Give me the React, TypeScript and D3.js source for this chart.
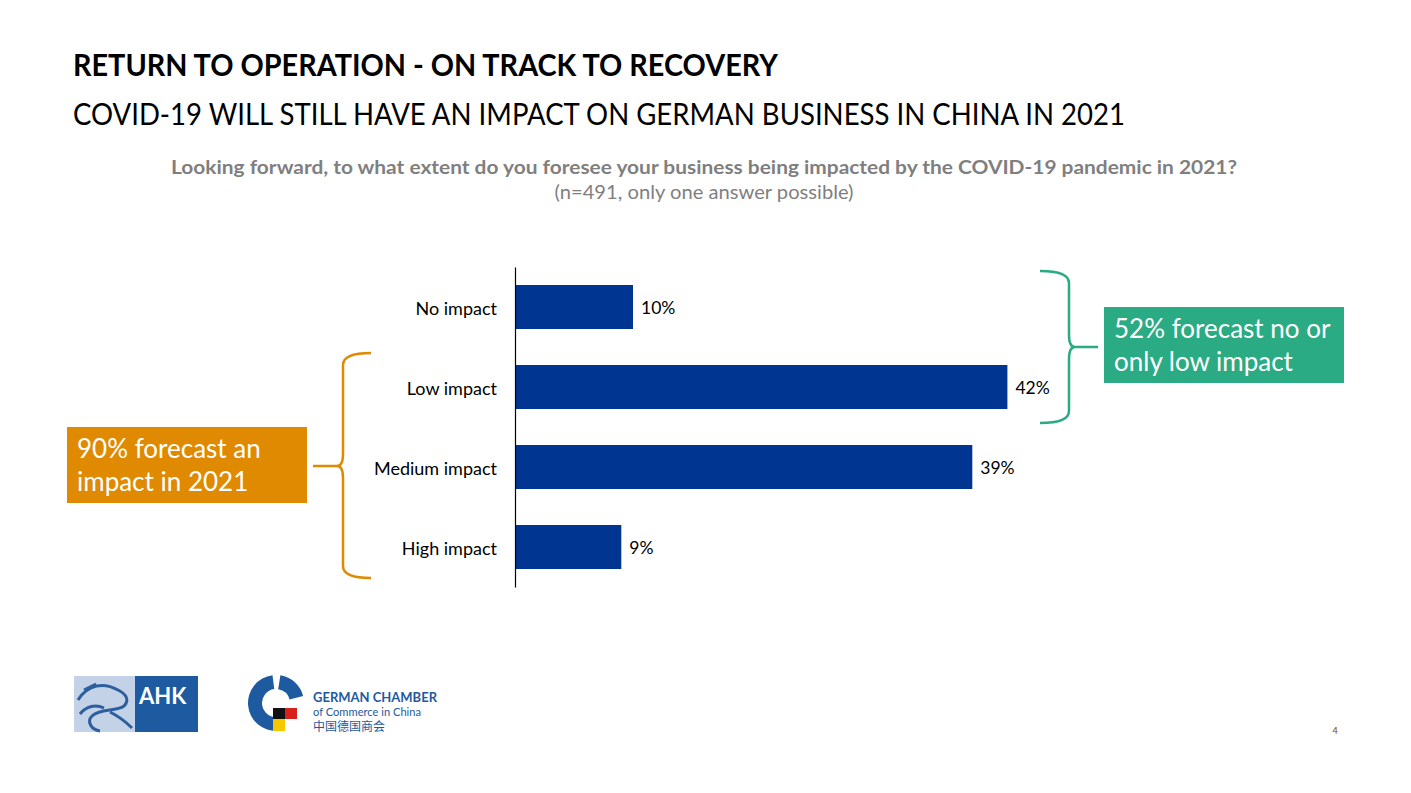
import React, { useEffect, useRef } from 'react';
import * as d3 from 'd3';

const categories = ['No impact', 'Low impact', 'Medium impact', 'High impact'];
const shares = [10, 42, 39, 9];

const title = 'RETURN TO OPERATION - ON TRACK TO RECOVERY';
const subtitle = 'COVID-19 WILL STILL HAVE AN IMPACT ON GERMAN BUSINESS IN CHINA IN 2021';
const question = 'Looking forward, to what extent do you foresee your business being impacted by the COVID-19 pandemic in 2021?';
const note = '(n=491, only one answer possible)';
const greenNote = ['52% forecast no or', 'only low impact'];
const orangeNote = ['90% forecast an', 'impact in 2021'];

const W = 1411;
const H = 793;
const FONT = 'Lato, "Open Sans", "Noto Sans", sans-serif';
const BAR = '#003591';
const GREEN = '#2bab83';
const ORANGE = '#df8a00';

const App: React.FC = () => {
  const svgRef = useRef<SVGSVGElement>(null);

  useEffect(() => {
    if (!svgRef.current) return;
    const svg = d3.select(svgRef.current);
    svg.selectAll('*').remove();

    svg.append('rect').attr('width', W).attr('height', H).attr('fill', '#fff');

    // Headings
    svg.append('text')
      .attr('x', 73).attr('y', 76)
      .attr('font-family', FONT).attr('font-weight', 700).attr('font-size', 30)
      .attr('textLength', 705).attr('lengthAdjust', 'spacingAndGlyphs')
      .attr('fill', '#000').text(title);

    svg.append('text')
      .attr('x', 73).attr('y', 125)
      .attr('font-family', FONT).attr('font-size', 30)
      .attr('textLength', 1052).attr('lengthAdjust', 'spacingAndGlyphs')
      .attr('fill', '#000').text(subtitle);

    svg.append('text')
      .attr('x', 171).attr('y', 174)
      .attr('font-family', FONT).attr('font-weight', 700).attr('font-size', 19)
      .attr('textLength', 1066).attr('lengthAdjust', 'spacingAndGlyphs')
      .attr('fill', '#7f7f7f').text(question);

    svg.append('text')
      .attr('x', 704).attr('y', 199)
      .attr('text-anchor', 'middle')
      .attr('font-family', FONT).attr('font-size', 19)
      .attr('textLength', 299).attr('lengthAdjust', 'spacingAndGlyphs')
      .attr('fill', '#7f7f7f').text(note);

    // Scales
    const x = d3.scaleLinear().domain([0, 50]).range([516, 516 + 50 * 11.7]);
    const y = d3.scaleBand<string>()
      .domain(categories)
      .range([267, 587])
      .paddingInner(0.45)
      .paddingOuter(0.225);

    const g = svg.append('g');

    g.selectAll('rect.bar')
      .data(shares)
      .enter()
      .append('rect')
      .attr('class', 'bar')
      .attr('x', x(0))
      .attr('y', (_, i) => y(categories[i]) as number)
      .attr('width', (d) => x(d) - x(0))
      .attr('height', y.bandwidth())
      .attr('fill', BAR);

    g.selectAll('text.value')
      .data(shares)
      .enter()
      .append('text')
      .attr('class', 'value')
      .attr('x', (d) => x(d) + 8)
      .attr('y', (_, i) => (y(categories[i]) as number) + y.bandwidth() / 2)
      .attr('dy', '0.42em')
      .attr('font-family', FONT).attr('font-size', 17.5)
      .attr('fill', '#000')
      .text((d) => `${d}%`);

    const axis = g.append('g')
      .attr('transform', `translate(${x(0) - 1},0)`)
      .call(d3.axisLeft(y).tickSize(0).tickPadding(18));
    axis.select('.domain').attr('stroke', '#000').attr('stroke-width', 1.2);
    axis.selectAll('text')
      .attr('dy', '0.42em')
      .attr('font-family', FONT).attr('font-size', 18).attr('fill', '#000');

    // Braces
    const brace = (xLine: number, xEnd: number, xTip: number, top: number, bottom: number, mid: number) => {
      const p = d3.path();
      const dir = Math.sign(xTip - xLine);
      p.moveTo(xEnd, top);
      p.quadraticCurveTo(xLine, top, xLine, top + 12);
      p.lineTo(xLine, mid - 12);
      p.quadraticCurveTo(xLine, mid, xLine + dir * 6, mid);
      p.lineTo(xTip, mid);
      p.moveTo(xLine + dir * 6, mid);
      p.quadraticCurveTo(xLine, mid, xLine, mid + 12);
      p.lineTo(xLine, bottom - 12);
      p.quadraticCurveTo(xLine, bottom, xEnd, bottom);
      return p.toString();
    };

    const gTop = (y('No impact') as number) - 14;
    const gBot = (y('Low impact') as number) + y.bandwidth() + 14;
    svg.append('path')
      .attr('d', brace(1069, 1040, 1098, gTop, gBot, 347))
      .attr('fill', 'none').attr('stroke', GREEN).attr('stroke-width', 2.5);

    const oTop = (y('Low impact') as number) - 12;
    const oBot = (y('High impact') as number) + y.bandwidth() + 9;
    svg.append('path')
      .attr('d', brace(343, 371, 313, oTop, oBot, 466))
      .attr('fill', 'none').attr('stroke', ORANGE).attr('stroke-width', 2.5);

    // Note boxes
    const box = (bx: number, by: number, bw: number, bh: number, fill: string, lines: string[]) => {
      svg.append('rect').attr('x', bx).attr('y', by).attr('width', bw).attr('height', bh).attr('fill', fill);
      lines.forEach((l, i) => {
        svg.append('text')
          .attr('x', bx + 10).attr('y', by + 31 + i * 33)
          .attr('font-family', FONT).attr('font-size', 26)
          .attr('fill', '#fff').text(l);
      });
    };
    box(1104, 307, 240, 76, GREEN, greenNote);
    box(67, 427, 240, 76, ORANGE, orangeNote);

    // AHK logo
    const logo = svg.append('g');
    logo.append('rect').attr('x', 74).attr('y', 676).attr('width', 124).attr('height', 56).attr('fill', '#c3d2e6');
    logo.append('rect').attr('x', 135).attr('y', 676).attr('width', 63).attr('height', 56).attr('fill', '#1e5aa0');
    logo.append('path')
      .attr('d', 'M78,700 C88,684 104,682 118,690 C126,694 130,700 124,706 C116,712 100,708 92,716 C86,722 92,730 100,731 M84,690 L96,684 M110,712 C118,716 126,722 132,728 M80,714 C86,706 96,704 104,708')
      .attr('fill', 'none').attr('stroke', '#2d5f9e').attr('stroke-width', 3);
    logo.append('text')
      .attr('x', 139).attr('y', 704)
      .attr('font-family', FONT).attr('font-weight', 700).attr('font-size', 22)
      .attr('fill', '#fff').text('AHK');

    // German Chamber logo
    const arc = d3.arc();
    const cg = svg.append('g').attr('transform', 'translate(276,703)');
    cg.append('path')
      .attr('d', arc({ innerRadius: 14, outerRadius: 28, startAngle: Math.PI * 0.98, endAngle: Math.PI * 1.96 }) as string)
      .attr('fill', '#1e5aa0');
    cg.append('path')
      .attr('d', arc({ innerRadius: 14, outerRadius: 28, startAngle: Math.PI * 0.05, endAngle: Math.PI * 0.42 }) as string)
      .attr('fill', '#1e5aa0');
    svg.append('rect').attr('x', 273).attr('y', 708).attr('width', 12).attr('height', 11).attr('fill', '#111');
    svg.append('rect').attr('x', 285).attr('y', 708).attr('width', 12).attr('height', 11).attr('fill', '#d9201c');
    svg.append('rect').attr('x', 273).attr('y', 719).attr('width', 12).attr('height', 12).attr('fill', '#f6c800');

    svg.append('text').attr('x', 313).attr('y', 702)
      .attr('font-family', FONT).attr('font-weight', 700).attr('font-size', 12.5)
      .attr('textLength', 124).attr('lengthAdjust', 'spacingAndGlyphs')
      .attr('fill', '#1e5aa0').text('GERMAN CHAMBER');
    svg.append('text').attr('x', 313).attr('y', 716)
      .attr('font-family', FONT).attr('font-size', 12)
      .attr('textLength', 108).attr('lengthAdjust', 'spacingAndGlyphs')
      .attr('fill', '#1e5aa0').text('of Commerce in China');
    svg.append('text').attr('x', 313).attr('y', 731)
      .attr('font-family', '"Noto Sans CJK SC", sans-serif').attr('font-size', 12)
      .attr('fill', '#1e5aa0').text('中国德国商会');

    // Page number
    svg.append('text').attr('x', 1335).attr('y', 734)
      .attr('text-anchor', 'middle')
      .attr('font-family', FONT).attr('font-size', 9)
      .attr('fill', '#7a3a10').text('4');
  }, []);

  return (
    <div style={{ position: 'absolute', top: 0, left: 0 }}>
      <svg ref={svgRef} width={W} height={H} style={{ display: 'block' }} />
    </div>
  );
};

export default App;
